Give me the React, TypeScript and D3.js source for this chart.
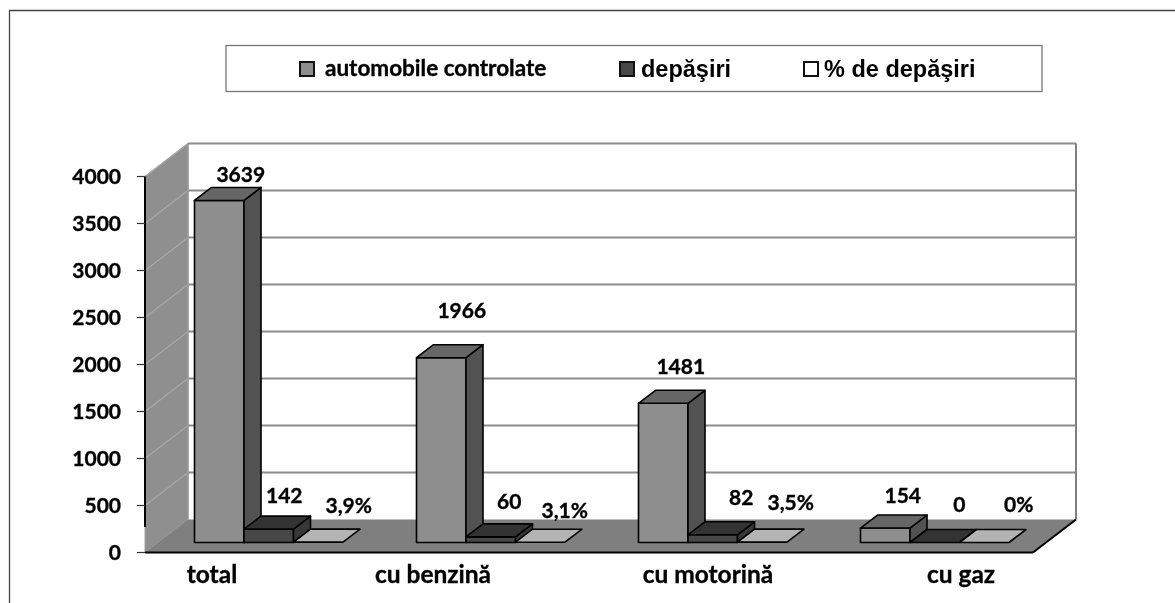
import React from "react";
import * as d3 from "d3";

const categories = ["total", "cu benzină", "cu motorină", "cu gaz"];
const controlate = [3639, 1966, 1481, 154];
const depasiri = [142, 60, 82, 0];
const procente = [3.9, 3.1, 3.5, 0];
const procentLabels = ["3,9%", "3,1%", "3,5%", "0%"];
const yTicks = [0, 500, 1000, 1500, 2000, 2500, 3000, 3500, 4000];
const legendLabels = ["automobile controlate", "depăşiri", "% de depăşiri"];

// layout
const W = 1175, H = 603;
const DX = 43, DY = -33;          // chart depth
const bdx = 17, bdy = -13;        // bar depth
const floorLift = 10;             // bars stand this far behind the front edge
const y = d3.scaleLinear().domain([0, 4000]).range([552.5, 176.5]);
const x = d3.scaleBand().domain(categories).range([145, 1033]);
const inner = d3.scaleBand().domain(["a", "b", "c"]).range([49.5, 198]);
const seriesStyle = [
  { front: "#8e8e8e", top: "#666666", side: "#525252" },
  { front: "#474747", top: "#333333", side: "#383838" },
  { front: "#b4b4b4", top: "#b4b4b4", side: "#999999" },
];
const seriesKeys = ["a", "b", "c"];
const seriesValues = [controlate, depasiri, procente];
// label centre offsets from the bar's front-top-centre
const labelOffsets = [
  [[21.5, -25], [15.5, -33], [30.5, -36]],
  [[20.5, -47], [18.5, -35], [24.5, -31]],
  [[17.5, -36], [28.5, -37], [28.5, -39]],
  [[17.5, -32], [24.5, -38], [34.5, -38]],
];
const catCenters = [212, 433, 708, 961];
const LABEL = "Lato, 'Open Sans', sans-serif";
const ARIAL = "'Liberation Sans', Arial, sans-serif";
const heavy = { stroke: "#000", strokeWidth: 0.35 };

const pts = (p: number[][]) => p.map(q => q.join(",")).join(" ");

function Bar({ x0, w, v, s }: { x0: number; w: number; v: number; s: any }) {
  const base = y(0) - floorLift;
  const h = y(0) - y(v);
  const top = base - h;
  return (
    <g stroke="#000" strokeWidth={1.6} strokeLinejoin="round">
      {h > 1 && <rect x={x0} y={top} width={w} height={h} fill={s.front} />}
      {h > 1 && <polygon points={pts([[x0 + w, top], [x0 + w + bdx, top + bdy], [x0 + w + bdx, base + bdy], [x0 + w, base]])} fill={s.side} />}
      <polygon points={pts([[x0, top], [x0 + w, top], [x0 + w + bdx, top + bdy], [x0 + bdx, top + bdy]])} fill={s.top} />
    </g>
  );
}

export default function App() {
  const x0 = x.range()[0], x1 = x.range()[1];
  const bw = inner.bandwidth();
  const top = y(4000);
  return (
    <svg width={W} height={H} viewBox={`0 0 ${W} ${H}`} style={{ position: "absolute", left: 0, top: 0, display: "block", background: "#fff" }}>
      <g style={{ filter: "blur(0.35px)" }}>
        {/* frame */}
        <path d={`M9.5 603V10.5H${W}`} fill="none" stroke="#444" strokeWidth={1.3} />
        {/* legend */}
        <rect x={226} y={45.5} width={816} height={46} fill="#fff" stroke="#777" strokeWidth={1.3} />
        <rect x={300} y={62} width={14} height={14} fill="#8e8e8e" stroke="#111" strokeWidth={2} />
        <text x={325} y={76} fontFamily={LABEL} fontWeight={700} fontSize={22.5} fill="#000" {...heavy}>{legendLabels[0]}</text>
        <rect x={620} y={62} width={14} height={14} fill="#474747" stroke="#111" strokeWidth={2} />
        <text x={641} y={76.5} fontFamily={ARIAL} fontWeight={700} fontSize={23.5} fill="#000">{legendLabels[1]}</text>
        <rect x={804} y={62} width={14} height={14} fill="#fff" stroke="#111" strokeWidth={2} />
        <text x={824} y={76.5} fontFamily={ARIAL} fontWeight={700} fontSize={23.5} fill="#000">{legendLabels[2]}</text>

        {/* walls */}
        <polygon points={pts([[x0, y(0)], [x0 + DX, y(0) + DY], [x0 + DX, top + DY], [x0, top]])} fill="#8f8f8f" stroke="#a0a0a0" strokeWidth={1} />
        <polygon points={pts([[x0, y(0)], [x0 + DX, y(0) + DY], [x1 + DX, y(0) + DY], [x1, y(0)]])} fill="#7f7f7f" />
        {yTicks.slice(1).map(t => (
          <g key={t} stroke="#8c8c8c" fill="none">
            <line x1={x0 + DX} x2={x1 + DX} y1={y(t) + DY} y2={y(t) + DY} strokeWidth={2} />
            <line x1={x0} x2={x0 + DX} y1={y(t)} y2={y(t) + DY} strokeWidth={1.3} stroke="#a8a8a8" />
          </g>
        ))}
        <line x1={x1 + DX} x2={x1 + DX} y1={top + DY} y2={y(0) + DY} stroke="#808080" strokeWidth={2} />
        <line x1={x0 + DX} x2={x0 + DX} y1={top + DY} y2={y(0) + DY} stroke="#9a9a9a" strokeWidth={1.5} />

        {/* axes */}
        <line x1={x0} x2={x0} y1={top} y2={527} stroke="#000" strokeWidth={2} />
        <line x1={x0} x2={x1} y1={y(0)} y2={y(0)} stroke="#000" strokeWidth={2} />
        <line x1={x1} x2={x1 + DX} y1={y(0)} y2={y(0) + DY} stroke="#000" strokeWidth={2} />
        {yTicks.map(t => (
          <g key={t}>
            <line x1={137} x2={x0} y1={y(t)} y2={y(t)} stroke="#333" strokeWidth={1.2} />
            <text x={121} y={y(t) + 7} textAnchor="end" fontFamily={LABEL} fontWeight={700} fontSize={21} fill="#000" {...heavy}>{t}</text>
          </g>
        ))}

        {/* bars */}
        {categories.map(c => seriesKeys.map((k, si) => (
          <Bar key={c + k} x0={x(c)! + inner(k)!} w={bw} v={seriesValues[si][categories.indexOf(c)]} s={seriesStyle[si]} />
        )))}

        {/* labels */}
        {categories.map((c, ci) => seriesKeys.map((k, si) => {
          const v = seriesValues[si][ci];
          const text = si === 2 ? procentLabels[ci] : String(v);
          const o = labelOffsets[ci][si];
          const cx = x(c)! + inner(k)! + bw / 2 + o[0];
          const cy = y(v) - floorLift + o[1];
          return (
            <text key={c + k} x={cx} y={cy + 7} textAnchor="middle" fontFamily={LABEL} fontWeight={700} fontSize={21} fill="#000" {...heavy}>{text}</text>
          );
        }))}

        {categories.map((c, i) => (
          <text key={c} x={catCenters[i]} y={583} textAnchor="middle" fontFamily={LABEL} fontWeight={700} fontSize={24.5} fill="#000" {...heavy}>{c}</text>
        ))}
      </g>
    </svg>
  );
}
